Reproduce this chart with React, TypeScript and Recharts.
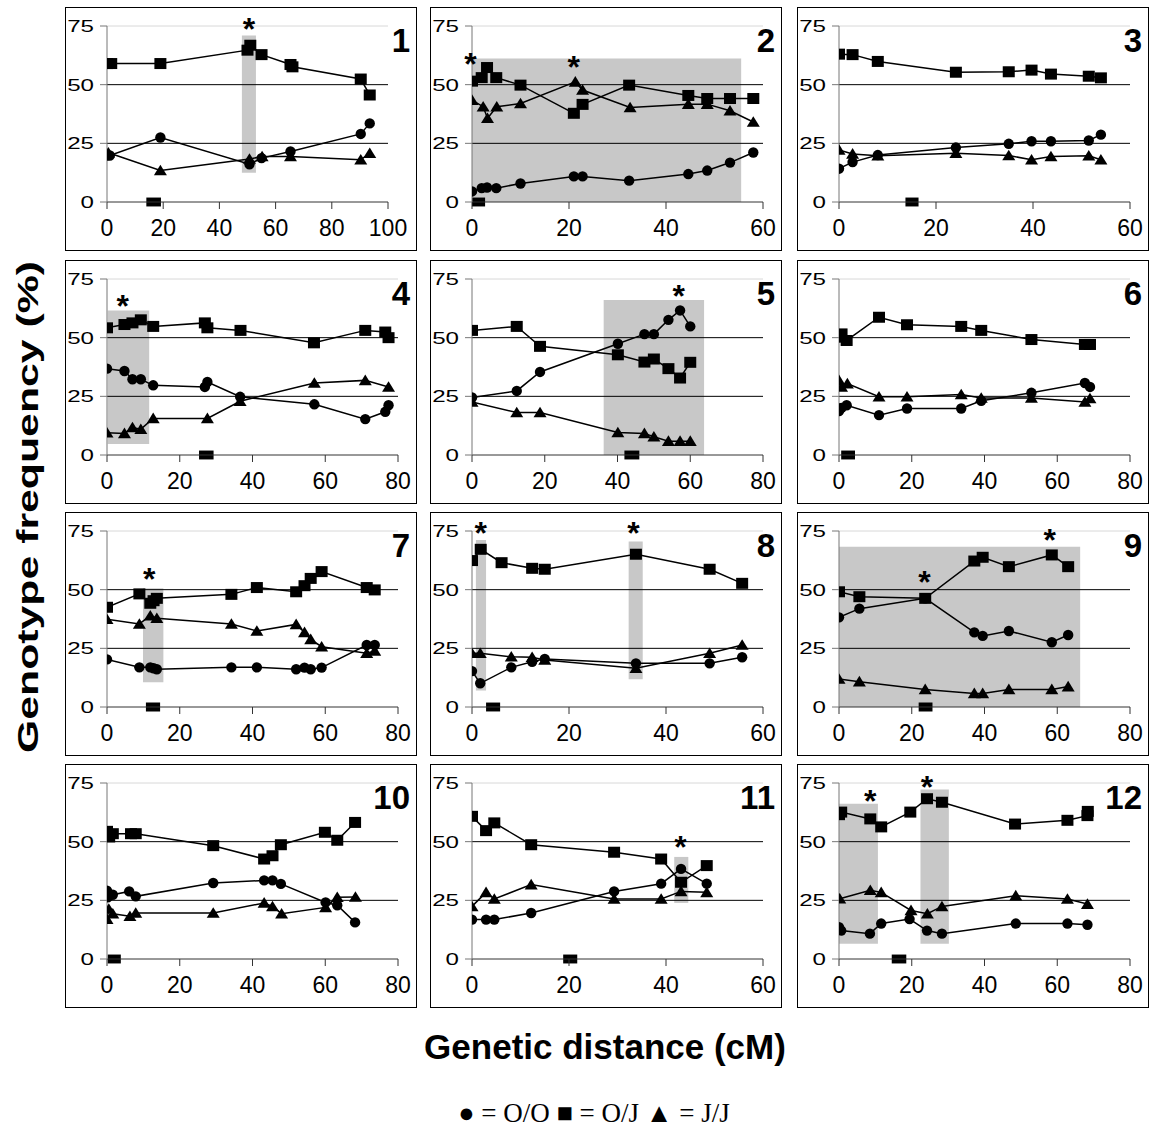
import React from 'react';
import { LineChart, Line, XAxis, YAxis, ReferenceArea, ReferenceLine, ReferenceDot } from 'recharts';

type P = [number, number];
type Area = [number, number, number, number]; // x1, x2, y1, y2

// ---------- Panel 1 ----------
const OO_1: P[] = [[0, 19.8], [1, 19.8], [19, 27.5], [50.7, 16.1], [55, 18.7], [65.3, 21.5], [90.3, 29], [93.5, 33.5]];
const OJ_1: P[] = [[0, 59], [1.5, 59], [19, 59], [50, 64.7], [51, 66.8], [55, 62.8], [65.3, 58.6], [66, 57.6], [90.3, 52.4], [93.5, 45.6]];
const JJ_1: P[] = [[0.5, 21], [19, 13.4], [50.7, 18.3], [55.2, 19.4], [65.3, 19.4], [90.3, 18], [93.5, 20.8]];
const SHADED_1: Area[] = [[48, 53, 12.5, 71]];
const STARS_1: P[] = [[50.5, 76.5]];
const BAR_1: P = [14, 19.2];

// ---------- Panel 2 ----------
const OO_2: P[] = [[0, 4.5], [2, 5.9], [3.1, 6.2], [5, 5.9], [10, 7.9], [21, 10.9], [22.8, 10.9], [32.4, 9.1], [44.6, 11.9], [48.5, 13.4], [53.2, 16.8], [58, 21.1]];
const OJ_2: P[] = [[0, 51.5], [2, 53], [3.1, 57.3], [5, 53], [10, 49.8], [21, 37.8], [22.8, 41.6], [32.4, 49.8], [44.6, 45.4], [48.5, 44.1], [53.2, 44.1], [58, 44.1]];
const JJ_2: P[] = [[0, 43.4], [2.3, 40.6], [3.2, 35.7], [5.1, 40.6], [10, 42], [21.3, 51.2], [22.8, 47.7], [32.6, 40.3], [44.6, 41.7], [48.5, 41.7], [53.2, 38.9], [58, 34.1]];
const SHADED_2: Area[] = [[0, 55.5, 0, 61.2]];
const STARS_2: P[] = [[-0.3, 62], [21, 60.4]];
const BAR_2: P = [0, 2.7];

// ---------- Panel 3 ----------
const OO_3: P[] = [[0, 14.2], [2.8, 17], [8, 20], [24.1, 23.2], [35, 24.8], [39.7, 25.9], [43.7, 25.9], [51.5, 26.2], [54, 28.7]];
const OJ_3: P[] = [[0, 63], [2.8, 62.8], [8, 59.9], [24.1, 55.3], [35, 55.5], [39.7, 56.2], [43.7, 54.5], [51.5, 53.6], [54, 52.9]];
const JJ_3: P[] = [[0, 22.2], [2.8, 20.5], [8, 19.7], [24.1, 20.8], [35, 19.8], [39.7, 18], [43.7, 19.4], [51.5, 19.7], [54, 18]];
const SHADED_3: Area[] = [];
const STARS_3: P[] = [];
const BAR_3: P = [13.7, 16.4];

// ---------- Panel 4 ----------
const OO_4: P[] = [[0, 36.8], [4.8, 35.8], [7, 32.3], [9.3, 32.3], [12.7, 29.7], [26.9, 29], [27.6, 31.1], [36.6, 24.8], [57, 21.6], [71, 15.3], [76.5, 18.4], [77.4, 21.2]];
const OJ_4: P[] = [[0, 54.2], [4.8, 55.6], [7, 56.3], [9.3, 57.6], [12.7, 54.8], [26.9, 56.3], [27.6, 54.2], [36.7, 53.1], [56.9, 47.8], [71, 53.1], [76.5, 52.4], [77.4, 50]];
const JJ_4: P[] = [[0, 9.5], [4.8, 9.2], [7, 11.7], [9.3, 11], [12.7, 15.6], [27.6, 15.6], [36.6, 22.9], [57, 30.7], [71, 31.8], [77.4, 29]];
const SHADED_4: Area[] = [[0.2, 11.6, 4.7, 61.6]];
const STARS_4: P[] = [[4.3, 66.5]];
const BAR_4: P = [25.3, 29.3];

// ---------- Panel 5 ----------
const OO_5: P[] = [[0, 24.5], [12.3, 27.3], [18.7, 35.4], [40.1, 47.4], [47.4, 51.5], [50, 51.5], [54, 57.6], [57.2, 61.6], [60, 54.8]];
const OJ_5: P[] = [[0, 53.1], [12.3, 54.8], [18.7, 46.3], [40.1, 42.7], [47.4, 39.6], [50, 40.9], [54, 36.8], [57.2, 32.8], [60, 39.5]];
const JJ_5: P[] = [[0, 22.6], [12.3, 18.1], [18.7, 18.1], [40.1, 9.6], [47.4, 9.2], [50, 7.8], [54, 5.9], [57.2, 5.9], [60, 5.9]];
const SHADED_5: Area[] = [[36.2, 63.8, 0, 66.1]];
const STARS_5: P[] = [[56.8, 70.8]];
const BAR_5: P = [41.9, 46];

// ---------- Panel 6 ----------
const OO_6: P[] = [[0, 18.7], [0.7, 20.1], [2.1, 21.2], [11, 17], [18.7, 19.8], [33.6, 19.8], [39.1, 23.1], [52.9, 26.5], [67.6, 30.7], [69, 29]];
const OJ_6: P[] = [[0, 50.2], [0.7, 51.6], [2.1, 48.8], [11, 58.7], [18.7, 55.5], [33.6, 54.8], [39.1, 53.1], [52.9, 49.2], [67.6, 47.1], [69, 47.1]];
const JJ_6: P[] = [[0, 31.8], [0.7, 29], [2.3, 30.4], [11, 24.8], [18.7, 24.8], [33.6, 25.8], [39.1, 24.3], [52.9, 24.3], [67.6, 22.6], [69, 24.1]];
const SHADED_6: Area[] = [];
const STARS_6: P[] = [];
const BAR_6: P = [0.6, 4.4];

// ---------- Panel 7 ----------
const OO_7: P[] = [[0, 20.3], [8.9, 16.9], [11.9, 16.9], [12.8, 16.5], [13.7, 16.1], [34.2, 16.9], [41.2, 16.9], [52, 16.1], [54.3, 16.8], [56, 16.1], [59, 16.8], [71.4, 26.4], [73.6, 26.4]];
const OJ_7: P[] = [[0, 42.5], [8.9, 48.2], [11.9, 44.2], [12.8, 45.3], [13.7, 46.3], [34.2, 48], [41.2, 50.9], [52, 49.1], [54.3, 51.7], [56, 54.8], [59, 57.7], [71.4, 50.9], [73.6, 49.9]];
const JJ_7: P[] = [[0, 37.4], [8.9, 35.4], [11.9, 38.9], [13.7, 37.8], [34.2, 35.4], [41.2, 32.4], [52, 35.2], [54.3, 31.8], [56, 28.8], [59, 25.7], [71.4, 22.9], [73.6, 23.9]];
const SHADED_7: Area[] = [[9.9, 15.5, 10.5, 50.6]];
const STARS_7: P[] = [[11.6, 57.7]];
const BAR_7: P = [10.7, 14.6];

// ---------- Panel 8 ----------
const OO_8: P[] = [[0, 15.3], [1.7, 10.1], [8.1, 16.9], [12.4, 19.3], [15, 20.5], [33.8, 18.6], [49, 18.6], [55.7, 21.2]];
const OJ_8: P[] = [[0, 62.4], [1.8, 67.2], [6.1, 61.5], [12.4, 59.1], [15, 58.7], [33.8, 65.1], [49, 58.7], [55.7, 52.7]];
const JJ_8: P[] = [[0, 22.9], [1.7, 22.9], [8.1, 21.4], [12.4, 21.2], [15, 20], [33.8, 16.5], [49, 22.9], [55.7, 26.4]];
const SHADED_8: Area[] = [[0.8, 2.9, 7, 71.2], [32.3, 35.2, 11.8, 70.5]];
const STARS_8: P[] = [[1.8, 77.2], [33.3, 77]];
const BAR_8: P = [2.9, 5.8];

// ---------- Panel 9 ----------
const OO_9: P[] = [[0, 38.2], [5.6, 41.9], [23.7, 46.3], [37.2, 31.8], [39.5, 30.3], [46.7, 32.4], [58.5, 27.6], [63, 30.7]];
const OJ_9: P[] = [[0, 49.1], [5.6, 47], [23.7, 46.3], [37.2, 62.2], [39.5, 63.8], [46.7, 59.8], [58.5, 64.8], [63, 59.8]];
const JJ_9: P[] = [[0, 11.9], [5.6, 10.8], [23.7, 7.5], [37.2, 5.8], [39.5, 5.8], [46.7, 7.5], [58.5, 7.5], [63, 8.7]];
const SHADED_9: Area[] = [[0, 66.3, 0, 68.3]];
const STARS_9: P[] = [[23.5, 56.3], [57.9, 74]];
const BAR_9: P = [21.9, 25.7];

// ---------- Panel 10 ----------
const OO_10: P[] = [[0, 29.1], [0.2, 26.3], [1.6, 27.4], [6.1, 28.8], [7.9, 26.7], [29.2, 32.4], [43.2, 33.5], [45.5, 33.5], [47.8, 32], [60.1, 24.1], [63.3, 22.9], [68.2, 15.6]];
const OJ_10: P[] = [[0, 54.4], [0.6, 52], [1.6, 53.4], [6.6, 53.4], [7.9, 53.4], [29.2, 48.3], [43.2, 42.6], [45.5, 44], [47.8, 48.7], [59.9, 54], [63.3, 50.6], [68.2, 58.2]];
const JJ_10: P[] = [[0, 17], [0.5, 21.3], [1.6, 19.3], [6.3, 18.2], [7.9, 19.6], [29.2, 19.6], [43.2, 23.9], [45.5, 22.4], [48, 19.3], [60.1, 22], [63.3, 26.3], [68.3, 26.4]];
const SHADED_10: Area[] = [];
const STARS_10: P[] = [];
const BAR_10: P = [0.2, 3.8];

// ---------- Panel 11 ----------
const OO_11: P[] = [[0, 16.8], [2.9, 16.8], [4.6, 16.8], [12.2, 19.6], [29.3, 28.8], [39, 32.1], [43.1, 38.4], [48.4, 32.1]];
const OJ_11: P[] = [[0, 60.8], [2.9, 54.7], [4.6, 58], [12.2, 48.7], [29.3, 45.5], [39, 42.6], [43.1, 32.7], [48.4, 39.8]];
const JJ_11: P[] = [[0, 22.4], [2.9, 28.4], [4.6, 25.6], [12.2, 31.7], [29.3, 25.6], [39, 25.6], [43.1, 28.8], [48.4, 28.4]];
const SHADED_11: Area[] = [[41.7, 44.6, 23.9, 43.5]];
const STARS_11: P[] = [[43, 50.9]];
const BAR_11: P = [18.8, 21.7];

// ---------- Panel 12 ----------
const OO_12: P[] = [[0, 13.6], [0.6, 12.1], [8.5, 10.8], [11.6, 15.1], [19.4, 17], [24.2, 12.1], [28.3, 10.8], [48.6, 15.1], [62.8, 15.1], [68.3, 14.6]];
const OJ_12: P[] = [[0, 61.5], [0.6, 62.6], [8.6, 59.7], [11.6, 56.3], [19.6, 62.6], [24.2, 68.3], [28.3, 66.8], [48.4, 57.5], [62.8, 59.1], [68.3, 61.1], [68.4, 62.9]];
const JJ_12: P[] = [[0.2, 25.7], [8.6, 29.3], [11.6, 28.4], [19.8, 20.7], [24.3, 19.3], [28.3, 22.4], [48.6, 27], [62.8, 25.6], [68.3, 23.4]];
const SHADED_12: Area[] = [[0, 10.7, 6.5, 66.2], [22.4, 30.2, 6.5, 72.2]];
const STARS_12: P[] = [[8.6, 70.5], [24.2, 76.3]];
const BAR_12: P = [14.5, 18.5];

// ---------- axes / labels ----------
const X_MAX = [100, 60, 60, 80, 80, 80, 80, 60, 80, 80, 60, 80];
const X_TICKS_100 = [0, 20, 40, 60, 80, 100];
const X_TICKS_80 = [0, 20, 40, 60, 80];
const X_TICKS_60 = [0, 20, 40, 60];
const Y_TICKS = [0, 25, 50, 75];
const PANEL_LABELS = ['1', '2', '3', '4', '5', '6', '7', '8', '9', '10', '11', '12'];
const Y_TITLE = 'Genotype frequency (%)';
const X_TITLE = 'Genetic distance (cM)';
const LEGEND_TEXT = '\u25CF = O/O \u25A0 = O/J \u25B2 = J/J';

const PANELS = [
  { oo: OO_1, oj: OJ_1, jj: JJ_1, shaded: SHADED_1, stars: STARS_1, bar: BAR_1 },
  { oo: OO_2, oj: OJ_2, jj: JJ_2, shaded: SHADED_2, stars: STARS_2, bar: BAR_2 },
  { oo: OO_3, oj: OJ_3, jj: JJ_3, shaded: SHADED_3, stars: STARS_3, bar: BAR_3 },
  { oo: OO_4, oj: OJ_4, jj: JJ_4, shaded: SHADED_4, stars: STARS_4, bar: BAR_4 },
  { oo: OO_5, oj: OJ_5, jj: JJ_5, shaded: SHADED_5, stars: STARS_5, bar: BAR_5 },
  { oo: OO_6, oj: OJ_6, jj: JJ_6, shaded: SHADED_6, stars: STARS_6, bar: BAR_6 },
  { oo: OO_7, oj: OJ_7, jj: JJ_7, shaded: SHADED_7, stars: STARS_7, bar: BAR_7 },
  { oo: OO_8, oj: OJ_8, jj: JJ_8, shaded: SHADED_8, stars: STARS_8, bar: BAR_8 },
  { oo: OO_9, oj: OJ_9, jj: JJ_9, shaded: SHADED_9, stars: STARS_9, bar: BAR_9 },
  { oo: OO_10, oj: OJ_10, jj: JJ_10, shaded: SHADED_10, stars: STARS_10, bar: BAR_10 },
  { oo: OO_11, oj: OJ_11, jj: JJ_11, shaded: SHADED_11, stars: STARS_11, bar: BAR_11 },
  { oo: OO_12, oj: OJ_12, jj: JJ_12, shaded: SHADED_12, stars: STARS_12, bar: BAR_12 },
];

// ---------- layout ----------
const FONT = "'Liberation Sans', Arial, Helvetica, sans-serif";
const COL_LEFT = [65, 430, 797];
const ROW_TOP = [7, 260, 512, 764];
const FRAME_W = 352;
const FRAME_H = 244;
const CHART_W = FRAME_W - 2;
const CHART_H = FRAME_H - 2;
const Y_AXIS_W = 41;
const PLOT_TOP = 18;
const PLOT_H = 176;

const toData = (pts: P[]) => pts.map(([x, y]) => ({ x, y }));

const circleDot = (p: any) => {
  const { cx, cy, index } = p;
  if (cx == null || cy == null) return <g key={`c${index}`} />;
  return <circle key={`c${index}`} cx={cx} cy={cy} r={5.2} fill="#000" />;
};
const squareDot = (p: any) => {
  const { cx, cy, index } = p;
  if (cx == null || cy == null) return <g key={`s${index}`} />;
  return <rect key={`s${index}`} x={cx - 6} y={cy - 5.5} width={12} height={11} fill="#000" />;
};
const triangleDot = (p: any) => {
  const { cx, cy, index } = p;
  if (cx == null || cy == null) return <g key={`t${index}`} />;
  return <path key={`t${index}`} d={`M${cx - 6.5},${cy + 4.8} L${cx + 6.5},${cy + 4.8} L${cx},${cy - 5.8} Z`} fill="#000" />;
};

const YTick = (props: any) => {
  const { x, y, payload } = props;
  return (
    <text
      x={x}
      y={y}
      textAnchor="end"
      dominantBaseline="central"
      fontFamily={FONT}
      fontSize={17}
      fill="#000"
      transform={`translate(${x} ${y}) scale(1.42 1) translate(${-x} ${-y})`}
    >
      {payload.value}
    </text>
  );
};

const XTick = (props: any) => {
  const { x, y, payload } = props;
  return (
    <text x={x} y={y} dy="0.71em" textAnchor="middle" fontFamily={FONT} fontSize={23} fill="#000">
      {payload.value}
    </text>
  );
};

const starShape = (p: any) => (
  <text x={p.cx} y={p.cy + 18} textAnchor="middle" fontFamily={FONT} fontSize={32} fontWeight="bold" fill="#000">
    *
  </text>
);

function Panel({ idx }: { idx: number }) {
  const d = PANELS[idx];
  const xMax = X_MAX[idx];
  const ticks = xMax === 100 ? X_TICKS_100 : xMax === 80 ? X_TICKS_80 : X_TICKS_60;
  const plotW = xMax === 100 ? 281 : 291;
  const right = CHART_W - Y_AXIS_W - plotW;
  const left = COL_LEFT[idx % 3];
  const top = ROW_TOP[Math.floor(idx / 3)];
  return (
    <div
      style={{
        position: 'absolute',
        left,
        top,
        width: FRAME_W,
        height: FRAME_H,
        border: '1px solid #000',
        boxSizing: 'border-box',
        background: '#fff',
      }}
    >
      <LineChart
        width={CHART_W}
        height={CHART_H}
        margin={{ top: PLOT_TOP, right, bottom: 0, left: 0 }}
      >
        <XAxis
          type="number"
          dataKey="x"
          domain={[0, xMax]}
          ticks={ticks}
          allowDataOverflow
          height={CHART_H - PLOT_TOP - PLOT_H}
          tickSize={7}
          tickMargin={11}
          stroke="#333"
          tick={<XTick />}
        />
        <YAxis
          type="number"
          domain={[0, 75]}
          ticks={Y_TICKS}
          allowDataOverflow
          width={Y_AXIS_W}
          tickSize={7}
          tickMargin={6}
          stroke="#777"
          tick={<YTick />}
        />
        {d.shaded.map((a, i) => (
          <ReferenceArea
            key={`sh${i}`}
            x1={a[0]}
            x2={a[1]}
            y1={a[2]}
            y2={a[3]}
            fill="#c8c8c8"
            fillOpacity={1}
            stroke="none"
            ifOverflow="visible"
          />
        ))}
        <ReferenceLine y={75} stroke="#d8d8d8" strokeWidth={1} />
        <ReferenceLine y={50} stroke="#000" strokeWidth={1} />
        <ReferenceLine y={25} stroke="#000" strokeWidth={1} />
        <ReferenceArea
          x1={d.bar[0]}
          x2={d.bar[1]}
          y1={-1.9}
          y2={1.9}
          fill="#000"
          fillOpacity={1}
          stroke="none"
          ifOverflow="visible"
        />
        <Line
          data={toData(d.oj)}
          dataKey="y"
          stroke="#000"
          strokeWidth={1.5}
          dot={squareDot}
          activeDot={false}
          isAnimationActive={false}
        />
        <Line
          data={toData(d.jj)}
          dataKey="y"
          stroke="#000"
          strokeWidth={1.5}
          dot={triangleDot}
          activeDot={false}
          isAnimationActive={false}
        />
        <Line
          data={toData(d.oo)}
          dataKey="y"
          stroke="#000"
          strokeWidth={1.5}
          dot={circleDot}
          activeDot={false}
          isAnimationActive={false}
        />
        {d.stars.map((s, i) => (
          <ReferenceDot key={`st${i}`} x={s[0]} y={s[1]} r={0} ifOverflow="visible" shape={starShape} />
        ))}
      </LineChart>
    </div>
  );
}

export default function App() {
  return (
    <div style={{ position: 'absolute', left: 0, top: 0, width: 1151, height: 1133, background: '#fff' }}>
      {PANELS.map((_, i) => (
        <Panel key={i} idx={i} />
      ))}
      <svg
        width={1151}
        height={1133}
        style={{ position: 'absolute', left: 0, top: 0, pointerEvents: 'none' }}
      >
        {PANEL_LABELS.map((lab, i) => (
          <text
            key={lab}
            x={COL_LEFT[i % 3] + 345}
            y={ROW_TOP[Math.floor(i / 3)] + 45}
            textAnchor="end"
            fontFamily={FONT}
            fontSize={33}
            fontWeight="bold"
            fill="#000"
          >
            {lab}
          </text>
        ))}
        <text
          transform="translate(27 507) rotate(-90)"
          textAnchor="middle"
          dominantBaseline="central"
          fontFamily={FONT}
          fontSize={30}
          fontWeight="bold"
          fill="#000"
          textLength={492}
          lengthAdjust="spacingAndGlyphs"
        >
          {Y_TITLE}
        </text>
        <text
          x={605}
          y={1046}
          textAnchor="middle"
          dominantBaseline="central"
          fontFamily={FONT}
          fontSize={35}
          fontWeight="bold"
          fill="#000"
        >
          {X_TITLE}
        </text>
        <text
          x={594}
          y={1113}
          textAnchor="middle"
          dominantBaseline="central"
          fontFamily="'Liberation Serif', 'Times New Roman', serif"
          fontSize={27}
          fill="#000"
        >
          {LEGEND_TEXT}
        </text>
      </svg>
    </div>
  );
}
